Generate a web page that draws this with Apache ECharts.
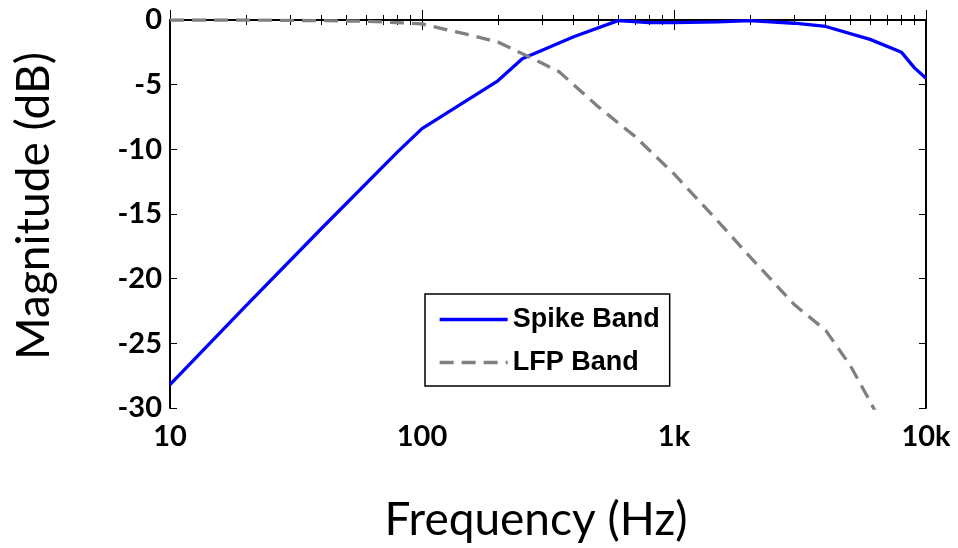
<!DOCTYPE html>
<html>
<head>
<meta charset="utf-8">
<script src="https://cdn.jsdelivr.net/npm/echarts@6/dist/echarts.min.js"></script>
<style>
  html, body { margin: 0; padding: 0; background: #fff; }
  #chart { width: 958px; height: 548px; }
</style>
</head>
<body>
<div id="chart"></div>
<script>
// frequency response (Hz, dB)
const spikeFreq = [10, 20, 40, 80, 100, 200, 250, 400, 600, 800, 1000, 1500, 2000, 3000, 4000, 6000, 8000, 9000, 10000];
const spikeDb = [-28.2, -22.1, -16.1, -10.2, -8.4, -4.7, -3.0, -1.3, -0.05, -0.2, -0.2, -0.15, -0.05, -0.25, -0.5, -1.5, -2.5, -3.7, -4.5];

const lfpFreq = [10, 20, 40, 60, 80, 100, 150, 200, 250, 300, 350, 500, 700, 1000, 1500, 2000, 3000, 4000, 5000, 6000, 7000];
const lfpDb = [0, 0, -0.05, -0.1, -0.2, -0.3, -1.1, -1.7, -2.6, -3.35, -4.0, -6.7, -9.0, -11.9, -15.6, -18.3, -22.0, -24.0, -26.7, -29.5, -32.0];

const xMajor = [10, 100, 1000, 10000];
const xMinor = [20, 30, 40, 50, 60, 70, 80, 90, 200, 300, 400, 500, 600, 700, 800, 900,
  2000, 3000, 4000, 5000, 6000, 7000, 8000, 9000];
const xTickText = { 10: '10', 100: '100', 1000: '1k', 10000: '10k' };

const chart = echarts.init(document.getElementById('chart'));

const axisBlack = { lineStyle: { color: '#000', width: 2 } };
const tickFont = { fontFamily: 'Lato', fontWeight: 'bold', fontSize: 29, color: '#000' };
const nameFont = { fontFamily: 'Lato', fontSize: 46, color: '#000' };

function logAxis(pos, ticks, len, withLabels) {
  return {
    type: 'log',
    logBase: 10,
    min: 10,
    max: 10000,
    position: pos,
    axisLine: withLabels !== null ? axisBlack : { show: false },
    axisTick: { show: true, inside: true, length: len, customValues: ticks, lineStyle: { color: '#000', width: 1 } },
    axisLabel: withLabels
      ? { show: true, customValues: xMajor, formatter: (v) => xTickText[v] || '', margin: 14, ...tickFont }
      : { show: false },
    splitLine: { show: false },
    minorTick: { show: false }
  };
}

const bottomMajor = logAxis('bottom', xMajor, 10, true);
bottomMajor.name = 'Frequency (Hz)';
bottomMajor.nameLocation = 'middle';
bottomMajor.nameGap = 89;
bottomMajor.nameTextStyle = { ...nameFont, padding: [0, 24, 0, 0] };

const option = {
  animation: false,
  backgroundColor: '#fff',
  grid: { left: 170, right: 32, top: 20, bottom: 140, containLabel: false },
  legend: {
    orient: 'vertical',
    left: 425,
    top: 294,
    padding: [12, 10, 10, 13],
    itemGap: 16,
    itemWidth: 68,
    itemHeight: 10,
    itemStyle: { opacity: 0 },
    lineStyle: { width: 3.3 },
    borderColor: '#000',
    borderWidth: 1.5,
    backgroundColor: '#fff',
    textStyle: { fontFamily: 'Liberation Sans', fontWeight: 'bold', fontSize: 27, color: '#000' },
    data: ['Spike Band', 'LFP Band']
  },
  xAxis: [
    bottomMajor,
    logAxis('bottom', xMinor, 5, null),
    logAxis('top', xMajor, 10, false),
    logAxis('top', xMinor, 5, null)
  ],
  yAxis: [
    {
      type: 'value',
      min: -30,
      max: 0,
      interval: 5,
      position: 'left',
      axisLine: { show: true, ...axisBlack },
      axisTick: { show: true, inside: true, length: 7, lineStyle: { color: '#000', width: 1 } },
      axisLabel: { margin: 8, ...tickFont },
      splitLine: { show: false },
      name: 'Magnitude (dB)',
      nameLocation: 'middle',
      nameRotate: 90,
      nameGap: 113,
      nameTextStyle: { ...nameFont, padding: [0, 0, 0, 16] }
    },
    {
      type: 'value',
      min: -30,
      max: 0,
      interval: 5,
      position: 'right',
      axisLine: { show: true, ...axisBlack },
      axisTick: { show: true, inside: true, length: 7, lineStyle: { color: '#000', width: 1 } },
      axisLabel: { show: false },
      splitLine: { show: false }
    }
  ],
  series: [
    {
      name: 'Spike Band',
      type: 'line',
      xAxisIndex: 0,
      yAxisIndex: 0,
      symbol: 'none',
      color: '#0000ff',
      lineStyle: { color: '#0000ff', width: 3.3 },
      data: spikeFreq.map((f, i) => [f, spikeDb[i]])
    },
    {
      name: 'LFP Band',
      type: 'line',
      xAxisIndex: 0,
      yAxisIndex: 0,
      symbol: 'none',
      color: '#808080',
      lineStyle: { color: '#808080', width: 3.3, type: [14, 8] },
      data: lfpFreq.map((f, i) => [f, lfpDb[i]])
    }
  ]
};

chart.setOption(option);
</script>
</body>
</html>
